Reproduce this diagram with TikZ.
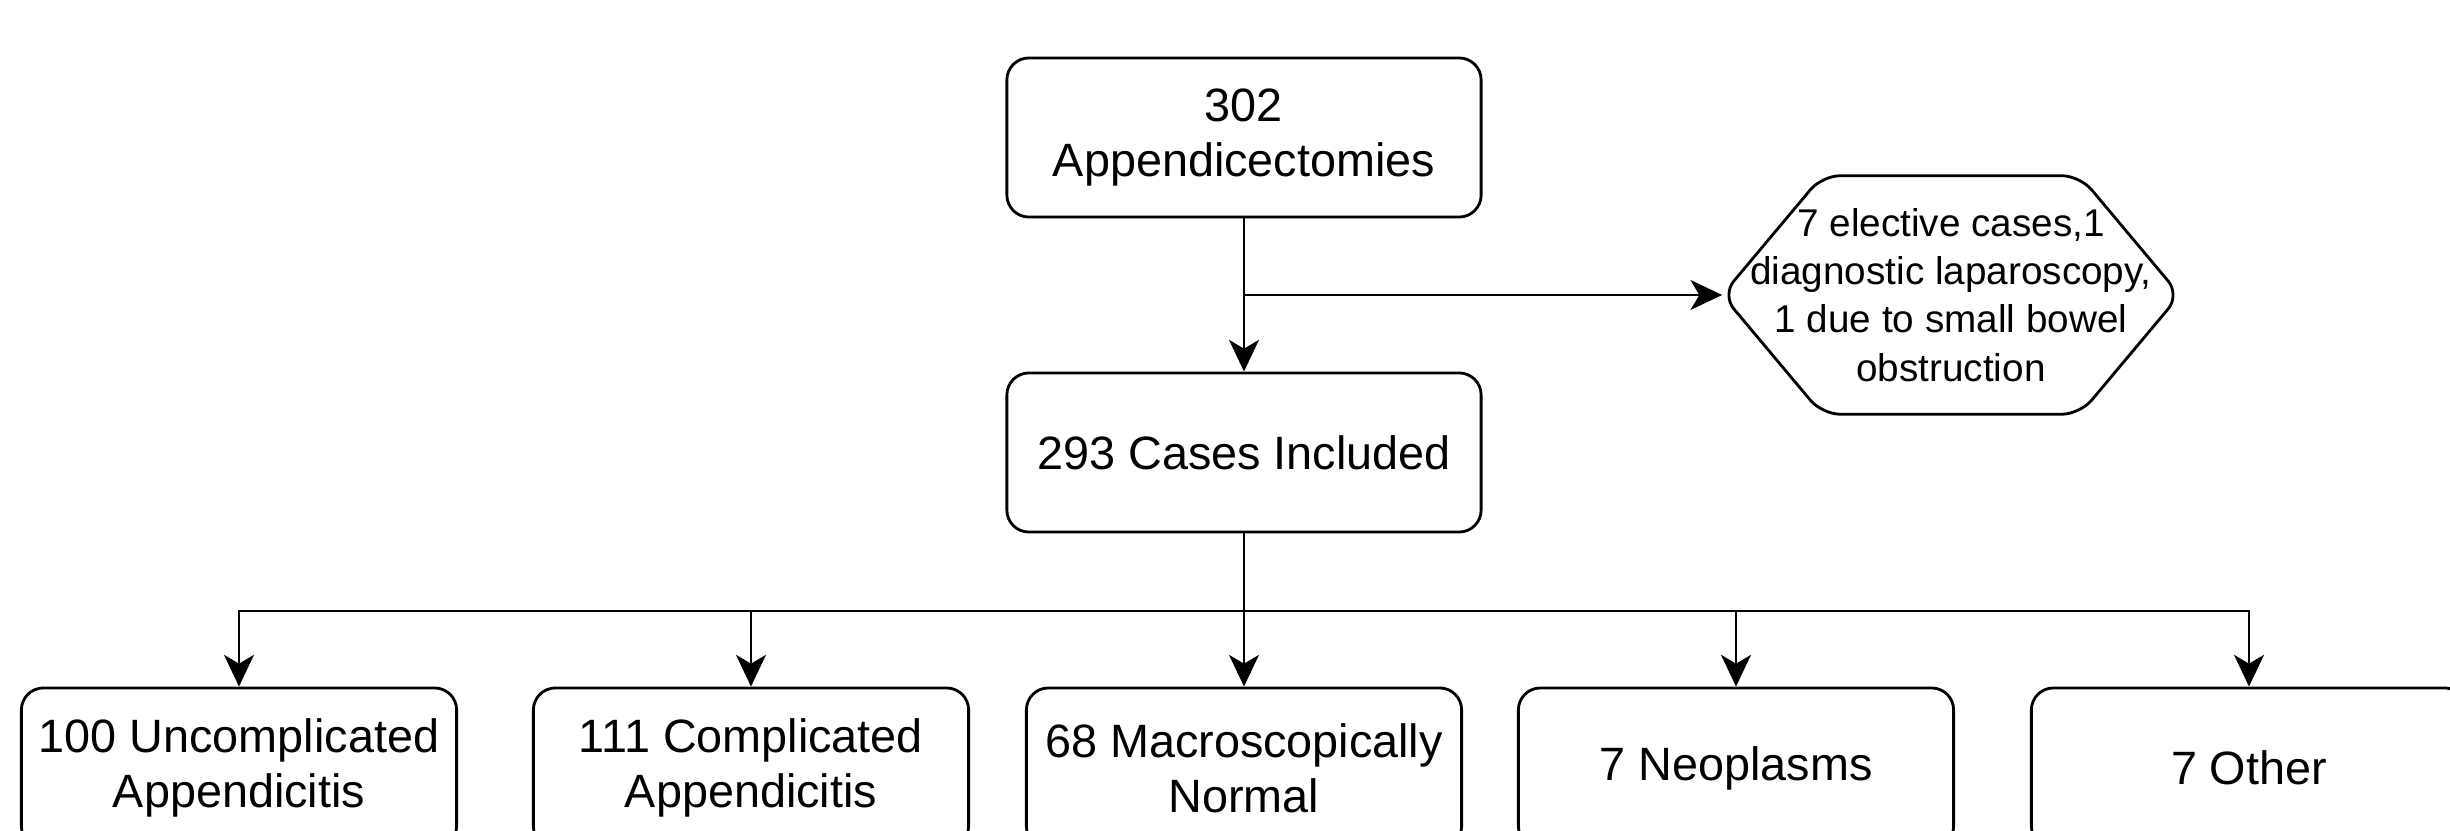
\documentclass[tikz,border=0pt]{standalone}
\usepackage{fontspec}
\setmainfont{Liberation Sans}
\usetikzlibrary{arrows.meta,calc}
\begin{document}
\begin{tikzpicture}[x=0.01cm,y=-0.01cm,
  box/.style={draw, line width=0.8pt, rounded corners=0.22cm, minimum width=4.74cm, minimum height=1.59cm, align=center, font=\fontsize{13.3}{15.6}\selectfont, inner sep=0pt},
  leaf/.style={box, minimum width=4.35cm, minimum height=1.6cm},
  hexbox/.style={minimum width=4.56cm, minimum height=2.37cm, align=center, font=\fontsize{11}{13.7}\selectfont, inner sep=0pt},
  arr/.style={line width=0.8pt, -{Stealth[length=9pt,width=8.5pt,inset=2.5pt]}},
  ln/.style={line width=0.8pt}]
\clip (0,0) rectangle (2450,831);
\fill[white] (0,0) rectangle (2450,831);

\node[box] (top) at (1244,137.5) {302\\Appendicectomies};
\node[box] (cases) at (1244,452.5) {293 Cases Included};
\node[hexbox] (hex) at (1951,295) {7 elective cases,1\\diagnostic laparoscopy,\\1 due to small bowel\\obstruction};
\draw[ln, rounded corners=0.18cm] ($(hex.north west)+(100,0)$) -- ($(hex.north east)+(-100,0)$) -- (hex.east) -- ($(hex.south east)+(-100,0)$) -- ($(hex.south west)+(100,0)$) -- (hex.west) -- cycle;

\node[leaf] (b1) at (239,768) {100 Uncomplicated\\Appendicitis};
\node[leaf] (b2) at (751,768) {111 Complicated\\Appendicitis};
\node[leaf] (b3) at (1244,768) {68 Macroscopically\\Normal};
\node[leaf] (b4) at (1736,768) {7 Neoplasms};
\node[leaf] (b5) at (2249,768) {7 Other};

\coordinate (br) at (1244,295);
\coordinate (j) at (1244,611);

\draw[arr] (top) -- (cases);
\draw[arr] (br) -- (hex.west);
\draw[ln] (cases.south) -- (j);
\draw[arr] (j) -| (b1.north);
\draw[arr] (j) -| (b2.north);
\draw[arr] (j) -- (b3.north);
\draw[arr] (j) -| (b4.north);
\draw[arr] (j) -| (b5.north);
\end{tikzpicture}
\end{document}
